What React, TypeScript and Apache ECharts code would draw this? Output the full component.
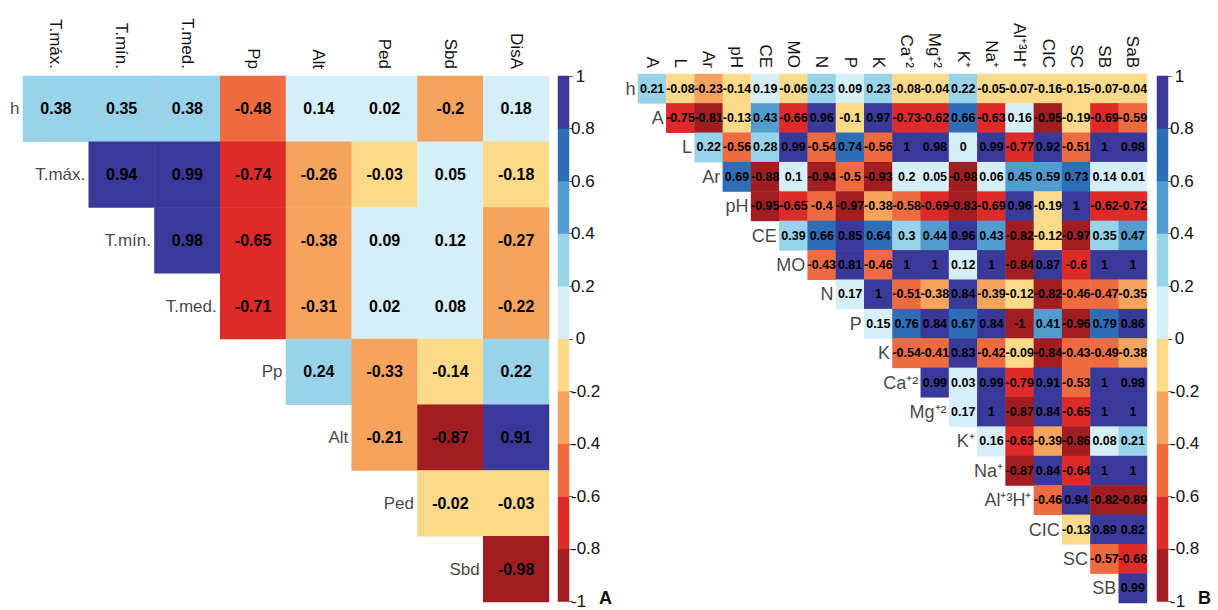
import React, { useEffect, useRef } from "react";
import * as echarts from "echarts";

// ---------- Panel A ----------
const colsA = ["T.máx.", "T.mín.", "T.med.", "Pp", "Alt", "Ped", "Sbd", "DisA"];
const rowsA = ["h", "T.máx.", "T.mín.", "T.med.", "Pp", "Alt", "Ped", "Sbd"];
const a_h = [0.38, 0.35, 0.38, -0.48, 0.14, 0.02, -0.2, 0.18];
const a_tmax = [0.94, 0.99, -0.74, -0.26, -0.03, 0.05, -0.18];
const a_tmin = [0.98, -0.65, -0.38, 0.09, 0.12, -0.27];
const a_tmed = [-0.71, -0.31, 0.02, 0.08, -0.22];
const a_pp = [0.24, -0.33, -0.14, 0.22];
const a_alt = [-0.21, -0.87, 0.91];
const a_ped = [-0.02, -0.03];
const a_sbd = [-0.98];
const rowValsA = [a_h, a_tmax, a_tmin, a_tmed, a_pp, a_alt, a_ped, a_sbd];

// ---------- Panel B ----------
const colsB = ["A", "L", "Ar", "pH", "CE", "MO", "N", "P", "K", "Ca⁺²", "Mg⁺²", "K⁺", "Na⁺", "Al⁺³H⁺", "CIC", "SC", "SB", "SaB"];
const rowsB = ["h", "A", "L", "Ar", "pH", "CE", "MO", "N", "P", "K", "Ca⁺²", "Mg⁺²", "K⁺", "Na⁺", "Al⁺³H⁺", "CIC", "SC", "SB"];
const b_h = [0.21, -0.08, -0.23, -0.14, 0.19, -0.06, 0.23, 0.09, 0.23, -0.08, -0.04, 0.22, -0.05, -0.07, -0.16, -0.15, -0.07, -0.04];
const b_A = [-0.75, -0.81, -0.13, 0.43, -0.66, 0.96, -0.1, 0.97, -0.73, -0.62, 0.66, -0.63, 0.16, -0.95, -0.19, -0.69, -0.59];
const b_L = [0.22, -0.56, 0.28, 0.99, -0.54, 0.74, -0.56, 1, 0.98, 0, 0.99, -0.77, 0.92, -0.51, 1, 0.98];
const b_Ar = [0.69, -0.88, 0.1, -0.94, -0.5, -0.93, 0.2, 0.05, -0.98, 0.06, 0.45, 0.59, 0.73, 0.14, 0.01];
const b_pH = [-0.95, -0.65, -0.4, -0.97, -0.38, -0.58, -0.69, -0.83, -0.69, 0.96, -0.19, 1, -0.62, -0.72];
const b_CE = [0.39, 0.66, 0.85, 0.64, 0.3, 0.44, 0.96, 0.43, -0.82, -0.12, -0.97, 0.35, 0.47];
const b_MO = [-0.43, 0.81, -0.46, 1, 1, 0.12, 1, -0.84, 0.87, -0.6, 1, 1];
const b_N = [0.17, 1, -0.51, -0.38, 0.84, -0.39, -0.12, -0.82, -0.46, -0.47, -0.35];
const b_P = [0.15, 0.76, 0.84, 0.67, 0.84, -1, 0.41, -0.96, 0.79, 0.86];
const b_K = [-0.54, -0.41, 0.83, -0.42, -0.09, -0.84, -0.43, -0.49, -0.38];
const b_Ca = [0.99, 0.03, 0.99, -0.79, 0.91, -0.53, 1, 0.98];
const b_Mg = [0.17, 1, -0.87, 0.84, -0.65, 1, 1];
const b_Kp = [0.16, -0.63, -0.39, -0.86, 0.08, 0.21];
const b_Na = [-0.87, 0.84, -0.64, 1, 1];
const b_Al = [-0.46, 0.94, -0.82, -0.89];
const b_CIC = [-0.13, 0.89, 0.82];
const b_SC = [-0.57, -0.68];
const b_SB = [0.99];
const rowValsB = [b_h, b_A, b_L, b_Ar, b_pH, b_CE, b_MO, b_N, b_P, b_K, b_Ca, b_Mg, b_Kp, b_Na, b_Al, b_CIC, b_SC, b_SB];

// ---------- Colour scale ----------
const binCenters = [-0.9, -0.7, -0.5, -0.3, -0.1, 0.1, 0.3, 0.5, 0.7, 0.9];
const binLabels = ["b0", "b1", "b2", "b3", "b4", "b5", "b6", "b7", "b8", "b9"];
const palette = ["#A21D21", "#DE2B2A", "#EE6A3F", "#F6A45D", "#FDD98A", "#D6EEF7", "#98D3E9", "#529DCF", "#2E6EB7", "#39399A"];

const FONT = "'Liberation Sans', Arial, Helvetica, sans-serif";

function buildCells(rowVals: number[][]) {
  const out: [number, number, number][] = [];
  rowVals.forEach((vals, r) => {
    vals.forEach((v, k) => out.push([r + k, r, v]));
  });
  return out;
}

const App: React.FC = () => {
  const ref = useRef<HTMLDivElement>(null);

  useEffect(() => {
    if (!ref.current) return;
    const chart = echarts.init(ref.current, undefined, { renderer: "svg" });

    const gA = { left: 23, top: 76, width: 526, height: 526 };
    const cbA = { left: 558, top: 76, width: 11, height: 526 };
    const gB = { left: 638, top: 74, width: 509, height: 529 };
    const cbB = { left: 1157, top: 76, width: 11, height: 527 };
    const cellA = gA.width / colsA.length;
    const cellB = gB.width / colsB.length;

    const catX = (gridIndex: number, data: string[], fontSize: number, margin: number) => ({
      type: "category",
      gridIndex,
      data,
      position: "top",
      axisLine: { show: false },
      axisTick: { show: false },
      splitLine: { show: false },
      axisLabel: { rotate: 90, interval: 0, fontSize, color: "#111", margin, fontFamily: FONT },
    });
    const catY = (gridIndex: number, data: string[]) => ({
      type: "category",
      gridIndex,
      data,
      inverse: true,
      axisLine: { show: false },
      axisTick: { show: false },
      axisLabel: { show: false },
      splitLine: { show: false },
    });
    const cbFormatter = (v: number) => {
      const s = String(Math.round(v * 10) / 10);
      return s === "1" || s === "0" ? "\u00a0" + s : s;
    };
    const cbValueY = (gridIndex: number) => ({
      type: "value",
      gridIndex,
      min: -1,
      max: 1,
      interval: 0.2,
      position: "right",
      axisLine: { show: false },
      axisTick: { show: true, length: 4, lineStyle: { color: "#666", width: 1 } },
      splitLine: { show: false },
      axisLabel: { fontSize: 17, color: "#111", margin: 2, fontFamily: FONT, formatter: cbFormatter },
    });
    const hiddenCat = (gridIndex: number, data: string[]) => ({
      type: "category",
      gridIndex,
      data,
      show: false,
    });

    const labelSeries = (xIdx: number, yIdx: number, rows: string[], fontSize: number, dist: number) => ({
      type: "scatter",
      xAxisIndex: xIdx,
      yAxisIndex: yIdx,
      symbolSize: 1,
      itemStyle: { color: "rgba(0,0,0,0)" },
      silent: true,
      z: 5,
      data: rows.map((_, i) => [i, i]),
      label: {
        show: true,
        position: "left",
        distance: dist,
        fontSize,
        color: "#111",
        fontFamily: FONT,
        formatter: (p: any) => rows[p.dataIndex],
      },
    });

    const option: any = {
      animation: false,
      backgroundColor: "#fff",
      textStyle: { fontFamily: FONT },
      grid: [
        { ...gA, containLabel: false },
        { ...cbA, containLabel: false },
        { ...gB, containLabel: false },
        { ...cbB, containLabel: false },
      ],
      xAxis: [
        catX(0, colsA, 17, 7),
        hiddenCat(1, ["c"]),
        catX(2, colsB, 17, 6),
        hiddenCat(3, ["c"]),
      ],
      yAxis: [
        catY(0, rowsA),
        hiddenCat(1, binLabels),
        cbValueY(1),
        catY(2, rowsB),
        hiddenCat(3, binLabels),
        cbValueY(3),
      ],
      visualMap: {
        type: "piecewise",
        show: false,
        dimension: 2,
        seriesIndex: [0, 1, 2, 3],
        pieces: [
          { gt: 0.8, lte: 1, color: palette[9] },
          { gt: 0.6, lte: 0.8, color: palette[8] },
          { gt: 0.4, lte: 0.6, color: palette[7] },
          { gt: 0.2, lte: 0.4, color: palette[6] },
          { gte: 0, lte: 0.2, color: palette[5] },
          { gt: -0.2, lt: 0, color: palette[4] },
          { gt: -0.4, lte: -0.2, color: palette[3] },
          { gt: -0.6, lte: -0.4, color: palette[2] },
          { gt: -0.8, lte: -0.6, color: palette[1] },
          { gte: -1, lte: -0.8, color: palette[0] },
        ],
      },
      series: [
        {
          type: "heatmap",
          xAxisIndex: 0,
          yAxisIndex: 0,
          data: buildCells(rowValsA),
          itemStyle: { borderWidth: 0 },
          emphasis: { disabled: true },
          label: {
            show: true,
            color: "#000",
            fontWeight: "bold",
            fontSize: 16,
            fontFamily: FONT,
            formatter: (p: any) => String(p.value[2]),
          },
        },
        {
          type: "heatmap",
          xAxisIndex: 2,
          yAxisIndex: 3,
          data: buildCells(rowValsB),
          itemStyle: { borderWidth: 0 },
          emphasis: { disabled: true },
          label: {
            show: true,
            color: "#000",
            fontWeight: "bold",
            fontSize: 12.5,
            fontFamily: FONT,
            formatter: (p: any) => String(p.value[2]),
          },
        },
        {
          type: "heatmap",
          xAxisIndex: 1,
          yAxisIndex: 1,
          data: binCenters.map((v, i) => [0, i, v]),
          emphasis: { disabled: true },
          silent: true,
        },
        {
          type: "heatmap",
          xAxisIndex: 3,
          yAxisIndex: 4,
          data: binCenters.map((v, i) => [0, i, v]),
          emphasis: { disabled: true },
          silent: true,
        },
        labelSeries(0, 0, rowsA, 17, cellA / 2 + 3),
        labelSeries(2, 3, rowsB, 18, cellB / 2 + 2),
      ],
      graphic: [
        {
          type: "text",
          left: 599,
          top: 589,
          style: { text: "A", font: `bold 18px ${FONT}`, fill: "#111" },
        },
        {
          type: "text",
          left: 1198,
          top: 589,
          style: { text: "B", font: `bold 18px ${FONT}`, fill: "#111" },
        },
      ],
    };

    chart.setOption(option);
    return () => chart.dispose();
  }, []);

  return (
    <div
      ref={ref}
      style={{ position: "fixed", left: 0, top: 0, width: 1218, height: 610, background: "#fff" }}
    />
  );
};

export default App;
